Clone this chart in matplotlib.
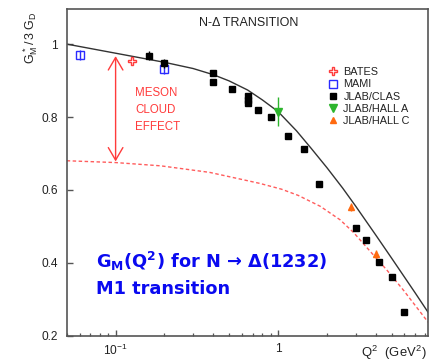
import matplotlib
matplotlib.use("Agg")
import matplotlib.pyplot as plt
from matplotlib.lines import Line2D
from matplotlib.ticker import NullFormatter, FixedLocator

plt.rcParams['font.family'] = ['Liberation Sans', 'DejaVu Sans']
plt.rcParams['mathtext.fontset'] = 'custom'
plt.rcParams['mathtext.rm'] = 'Liberation Sans'
plt.rcParams['mathtext.it'] = 'Liberation Sans'
plt.rcParams['mathtext.bf'] = 'DejaVu Sans:bold'

# data
bates_q2 = [0.126]
bates_g = [0.953]

mami_q2 = [0.06, 0.20]
mami_g = [0.970, 0.932]
mami_err = [0.013, 0.013]

clas_q2 = [0.16, 0.20, 0.40, 0.40, 0.52, 0.65, 0.65, 0.65, 0.75, 0.90,
           1.15, 1.45, 1.80, 3.0, 3.5, 4.2, 5.0, 6.0]
clas_g = [0.968, 0.947, 0.920, 0.897, 0.877, 0.857, 0.847, 0.838, 0.819, 0.800,
          0.748, 0.711, 0.616, 0.495, 0.463, 0.401, 0.362, 0.264]
clas_err = [0.013, 0.013, 0.008, 0.008, 0.008, 0.008, 0.008, 0.008, 0.008, 0.008,
            0.008, 0.008, 0.008, 0.008, 0.008, 0.008, 0.008, 0.008]

halla_q2 = [1.0]
halla_g = [0.815]
halla_err = [0.04]

hallc_q2 = [2.8, 4.0]
hallc_g = [0.553, 0.424]
hallc_err = [0.012, 0.012]

# model curves (full and without the pion cloud)
full_q2 = [0.05, 0.1, 0.2, 0.3, 0.4, 0.5, 0.65, 0.8, 1.0, 1.3, 1.6, 2.0,
           2.5, 3.0, 4.0, 5.0, 6.0, 7.0, 8.4]
full_g = [1.000, 0.975, 0.950, 0.933, 0.916, 0.899, 0.874, 0.847, 0.815, 0.762,
          0.714, 0.661, 0.605, 0.556, 0.476, 0.413, 0.361, 0.317, 0.264]

bare_q2 = [0.05, 0.1, 0.19, 0.38, 0.77, 1.05, 1.33, 1.82, 2.41, 2.92,
           3.7, 4.68, 5.94, 8.4]
bare_g = [0.680, 0.675, 0.666, 0.648, 0.618, 0.602, 0.585, 0.555, 0.518, 0.483,
          0.431, 0.380, 0.324, 0.237]

arrow_q2 = 0.1
arrow_top = 0.967
arrow_bottom = 0.678

legend_labels = ["BATES", "MAMI", "JLAB/CLAS", "JLAB/HALL A", "JLAB/HALL C"]

red = '#ff3b3b'
blue = '#2b2bff'
green = '#2db52d'
orange = '#ff6a10'
axis_col = '#555555'
text_col = '#222222'

fig = plt.figure(figsize=(4.36, 3.64), dpi=100)
ax = fig.add_axes([0.153, 0.0777, 0.829, 0.8973])

ax.plot(full_q2, full_g, color='#333333', lw=1.0)
ax.plot(bare_q2, bare_g, color='#ff5c5c', lw=1.0, dashes=(2.5, 1.8))

ax.errorbar(bates_q2, bates_g, fmt='P', ms=6, mfc='none', mec=red, mew=1.0)
ax.errorbar(mami_q2, mami_g, yerr=mami_err, fmt='s', ms=5.5, mfc='none',
            mec=blue, mew=1.0, ecolor=blue, elinewidth=1.0, capsize=0)
ax.errorbar(clas_q2, clas_g, yerr=clas_err, fmt='s', ms=5, color='black',
            elinewidth=1.0, capsize=0)
ax.errorbar(halla_q2, halla_g, yerr=halla_err, fmt='v', ms=5.5, color=green,
            elinewidth=1.0, capsize=0)
ax.errorbar(hallc_q2, hallc_g, yerr=hallc_err, fmt='^', ms=5, color=orange,
            elinewidth=1.0, capsize=0)

ax.annotate('', xy=(arrow_q2, arrow_bottom), xytext=(arrow_q2, arrow_top),
            arrowprops=dict(arrowstyle='<->,head_length=0.6,head_width=0.35',
                            color=red, lw=1.0, mutation_scale=15,
                            shrinkA=0, shrinkB=0))
ax.text(0.189, 0.691, "MESON\nCLOUD\nEFFECT", transform=ax.transAxes,
        color=red, fontsize=8.3, ha='left', va='center', linespacing=1.55)

ax.text(0.504, 0.957, "N-Δ TRANSITION", transform=ax.transAxes,
        color=text_col, fontsize=9, ha='center', va='center')

ax.text(0.082, 0.206, r"$\mathbf{G_M(Q^2)}$ for N → Δ(1232)",
        transform=ax.transAxes, color='#0a0af0', fontsize=12.8,
        family='DejaVu Sans', fontweight='bold', ha='left', va='baseline')
ax.text(0.082, 0.129, "M1 transition",
        transform=ax.transAxes, color='#0a0af0', fontsize=12.8,
        family='DejaVu Sans', fontweight='bold', ha='left', va='baseline')

handles = [
    Line2D([], [], ls='none', marker='P', ms=6, mfc='none', mec=red, mew=1.0),
    Line2D([], [], ls='none', marker='s', ms=5.5, mfc='none', mec=blue, mew=1.0),
    Line2D([], [], ls='none', marker='s', ms=5, color='black'),
    Line2D([], [], ls='none', marker='v', ms=5.5, color=green),
    Line2D([], [], ls='none', marker='^', ms=5, color=orange),
]
leg = ax.legend(handles, legend_labels, loc='upper left',
                bbox_to_anchor=(0.722, 0.822), frameon=False, fontsize=7.8,
                handlelength=1.0, handletextpad=0.45, labelspacing=0.2,
                borderpad=0, borderaxespad=0)
for t in leg.get_texts():
    t.set_color(text_col)

ax.set_xscale('log')
ax.set_xlim(0.05, 8.4)
ax.set_ylim(0.2, 1.096)

ax.xaxis.set_major_locator(FixedLocator([0.1, 1.0]))
ax.set_xticklabels([r'$10^{-1}$', '1'])
ax.xaxis.set_minor_formatter(NullFormatter())
ax.set_yticks([0.2, 0.4, 0.6, 0.8, 1.0])
ax.set_yticklabels(['0.2', '0.4', '0.6', '0.8', '1'])

ax.tick_params(axis='both', which='major', direction='in', length=4.2,
               width=1.0, color=axis_col, labelcolor=text_col, labelsize=8.6)
ax.tick_params(axis='x', which='minor', direction='in', length=2.3,
               width=0.9, color=axis_col)
ax.tick_params(axis='x', which='major', pad=5)
ax.tick_params(axis='y', which='major', pad=6.5)
for s in ax.spines.values():
    s.set_color(axis_col)
    s.set_linewidth(1.2)

fig.text(31 / 436, 1 - 38 / 364, r'$G^*_M\,/\,3\ G_D$', rotation=90,
         ha='center', va='center', fontsize=9, color=text_col)
fig.text(427 / 436, 1 - 353 / 364, r'$Q^2\ \ (GeV^2)$', ha='right',
         va='center', fontsize=9.4, color=text_col)

fig.savefig('out.png', dpi=100)
